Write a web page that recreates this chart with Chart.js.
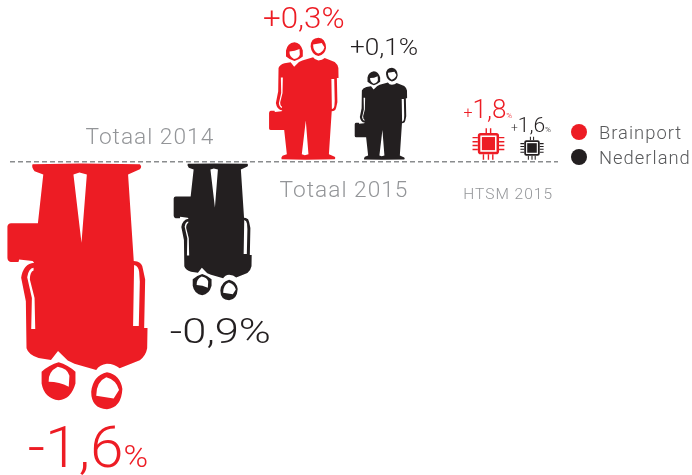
<!DOCTYPE html>
<html><head><meta charset="utf-8">
<style>html,body{margin:0;padding:0;background:#fff}#w{position:relative;width:692px;height:475px}</style>
<script src="https://cdn.jsdelivr.net/npm/chart.js@4/dist/chart.umd.min.js"></script>
</head><body><div id="w"><canvas id="c" width="692" height="475"></canvas></div>
<script>
// ---- data ----
const categories = ['Totaal 2014', 'Totaal 2015', 'HTSM 2015'];
const seriesNames = ['Brainport', 'Nederland'];
const brainport = [-1.6, 0.3, 1.8];
const nederland = [-0.9, 0.1, 1.6];

// ---- style ----
const RED = '#ED1C24', BLACK = '#231F20', GREY = '#939598', DARKGREY = '#58595B';
const FONT = 'Roboto';
// per [series][category]: pictogram size and offsets
const STYLE = [
 [ {kind:'people',h:246,dx:13,  tx:-50,ty:305,sign:58,num:58,pct:32,sx:1.04},
   {kind:'people',h:122,dx:56.5,tx:-41,ty:-134,sign:29,num:29,pct:29,sx:1.08},
   {kind:'chip',  h:31.5,dx:58.3,tx:-25,ty:-44,sign:16,num:26,pct:8,sx:1} ],
 [ {kind:'people',h:137,dx:75,  tx:-43,ty:181,sign:35,num:35,pct:35,sx:1.24},
   {kind:'people',h:92, dx:60.5,tx:-31,ty:-107,sign:24,num:24,pct:24,sx:1.09},
   {kind:'chip',  h:23, dx:28.8,tx:-21,ty:-30,sign:12,num:21,pct:8,sx:1} ]
];
const CATEGORY_LABELS = [ {dx:48.5,y:144,size:22.7},{dx:60,y:197,size:22.7},{dx:41.5,y:199,size:15.5} ];

const BODY = new Path2D('M100 41 L245 39 L420 41 Q428 48 420 56 L385 72 L402 330 L412 331 Q427 335 429 352 L436 385 L433 530 L443 530 L442 590 Q438 612 420 626 L360 650 Q345 636 322 636 Q300 638 290 655 L225 636 L205 627 L176 598 L155 625 L118 619 Q88 610 82 590 L80 450 L66 380 Q72 338 105 335 L100 330 L60 325 L58 333 L35 333 Q25 330 25 320 L25 227 Q26 218 36 217 L116 217 L132 72 L106 62 Q96 50 100 41 Z '
 + 'M403 342 Q416 345 418 362 L420 392 L417 524 L400 524 Z '
 + 'M103 350 Q88 352 84 378 L98 440 L96 533 L108 533 L106 440 L92 385 Q92 362 103 358 Z '
 + 'M222 72 L240 66 L262 72 L246 275 Z '
 + 'M127 660 Q150 640 178 632 Q205 640 228 660 L228 695 Q215 742 178 745 Q135 740 127 695 Z '
 + 'M148 690 Q146 660 175 645 Q205 650 210 672 L208 705 Q180 690 148 690 Z '
 + 'M275 720 Q280 672 322 662 Q362 670 368 712 Q365 768 322 772 Q275 770 275 720 Z '
 + 'M290 732 Q290 690 320 677 Q350 685 358 715 L342 740 Z');

function drawPeople(ctx, cx, base, dir, h, color) {
  const k = h / 734;
  ctx.save();
  ctx.translate(cx, base);
  ctx.scale(k, dir * k);
  ctx.translate(-235, -38);
  ctx.fillStyle = color;
  ctx.fill(BODY, 'evenodd');
  ctx.restore();
}
function drawChip(ctx, cx, base, h, color) {
  const k = h / 101;
  ctx.save();
  ctx.translate(cx, base);
  ctx.scale(k, k);
  ctx.translate(0, -52);
  ctx.strokeStyle = color; ctx.fillStyle = color;
  ctx.lineWidth = 8;
  ctx.beginPath(); ctx.roundRect(-30,-30,60,60,5); ctx.stroke();
  ctx.fillRect(-21,-21,42,42);
  ctx.lineWidth = 4.5;
  ctx.beginPath();
  [-7,7].forEach(x=>{ctx.moveTo(x,-49);ctx.lineTo(x,-34);});
  [-16,0,14].forEach(x=>{ctx.moveTo(x,34);ctx.lineTo(x,52);});
  [-19,-6,6,19].forEach(y=>{ctx.moveTo(-51,y);ctx.lineTo(-34,y);ctx.moveTo(34,y);ctx.lineTo(51,y);});
  ctx.stroke();
  ctx.restore();
}
function drawValue(ctx, v, x, y, s, color) {
  const sign = v > 0 ? '+' : '-';
  const num = Math.abs(v).toFixed(1).replace('.', ',');
  ctx.save();
  ctx.translate(x, y);
  ctx.scale(s.sx, 1);
  ctx.fillStyle = color; ctx.textAlign = 'left'; ctx.textBaseline = 'alphabetic';
  let px = 0;
  [[sign,s.sign],[num,s.num],['%',s.pct]].forEach(([t,size])=>{
    ctx.font = '300 '+size+'px '+FONT;
    ctx.fillText(t, px, 0);
    px += ctx.measureText(t).width;
  });
  ctx.restore();
}

class PictogramController extends Chart.BarController {
  draw() {
    const ctx = this.chart.ctx, zero = this.chart.scales.y.getPixelForValue(0);
    const meta = this.getMeta(), color = this.getDataset().backgroundColor;
    meta.data.forEach((el, i) => {
      const s = STYLE[this.index][i], v = this.getDataset().data[i];
      const cx = el.x + s.dx, dir = v < 0 ? 1 : -1;
      const base = v < 0 ? el.base + 0.5 : el.base - 1.5;
      if (s.kind === 'people') drawPeople(ctx, cx, base, dir, s.h, color);
      else drawChip(ctx, cx, base, s.h, color);
      drawValue(ctx, v, cx + s.tx, zero + s.ty, s, color);
    });
  }
}
PictogramController.id = 'pictogram';
PictogramController.defaults = Chart.BarController.defaults;
PictogramController.overrides = Chart.BarController.overrides;
Chart.register(PictogramController);

const textPlugin = {
  id: 'textPlugin',
  afterDraw(chart) {
    const ctx = chart.ctx, x = chart.scales.x;
    ctx.save();
    ctx.textBaseline = 'alphabetic';
    categories.forEach((c, i) => {
      const s = CATEGORY_LABELS[i];
      ctx.font = '300 '+s.size+'px '+FONT;
      ctx.fillStyle = GREY; ctx.textAlign = 'center';
      ctx.letterSpacing = '1px';
      ctx.fillText(c, x.getPixelForValue(i) + s.dx, s.y);
    });
    chart.data.datasets.forEach((d, i) => {
      const y = 132 + i * 25;
      ctx.beginPath(); ctx.arc(579, y, 8, 0, Math.PI*2);
      ctx.fillStyle = d.backgroundColor; ctx.fill();
      ctx.font = '300 18.4px '+FONT; ctx.fillStyle = DARKGREY; ctx.textAlign = 'left';
      ctx.letterSpacing = '1px';
      ctx.fillText(d.label, 599, y + 7);
    });
    ctx.restore();
  }
};

new Chart(document.getElementById('c'), {
  type: 'pictogram',
  data: { labels: categories, datasets: [
    { label: seriesNames[0], data: brainport, backgroundColor: RED, clip: false },
    { label: seriesNames[1], data: nederland, backgroundColor: BLACK, clip: false }
  ]},
  plugins: [textPlugin],
  options: {
    responsive: false, animation: false,
    layout: { padding: { left: 10, right: 134, top: 0, bottom: 0 } },
    plugins: { legend: { display: false }, tooltip: { enabled: false } },
    scales: {
      x: { type: 'category', display: false },
      y: { type: 'linear', min: -3.864, max: 2,
           ticks: { display: false, stepSize: 1 },
           border: { display: false, dash: [5, 3] },
           grid: { drawTicks: false, lineWidth: 1.4,
                   color: c => c.tick.value === 0 ? '#8A8C8E' : 'rgba(0,0,0,0)' } }
    }
  }
});
</script></body></html>
